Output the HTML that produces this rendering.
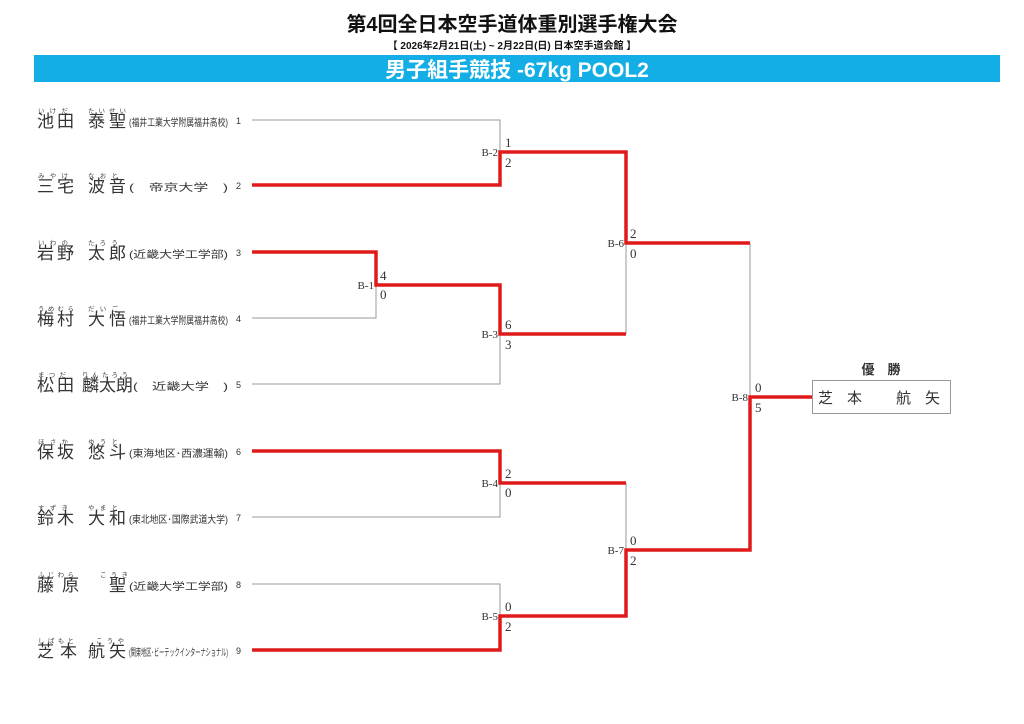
<!DOCTYPE html>
<html><head><meta charset="utf-8"><style>
html,body{margin:0;padding:0;background:#fff;}
svg{display:block;}
.j{font-family:"Liberation Sans","Noto Sans CJK JP",sans-serif;}
.nm{font-size:17px;fill:#333;}
.fu{font-size:6.5px;fill:#444;}
.org{font-size:10px;fill:#333;}
.num{font-size:9px;fill:#333;font-family:"Liberation Sans",sans-serif;}
.sc{font-family:"Liberation Serif","DejaVu Serif",serif;font-size:13px;fill:#333;}
.bl{font-family:"Liberation Serif","DejaVu Serif",serif;font-size:11px;fill:#333;}
.g{stroke:#999;stroke-width:1;fill:none;}
.r{stroke:#e01a1a;stroke-width:3.5;fill:none;stroke-linejoin:miter;}
</style></head><body>
<svg width="1024" height="724" viewBox="0 0 1024 724" xmlns="http://www.w3.org/2000/svg">
<text class="j" x="512" y="31" text-anchor="middle" font-size="20" font-weight="bold" fill="#111">第4回全日本空手道体重別選手権大会</text>
<text class="j" x="512" y="49" text-anchor="middle" font-size="10" font-weight="bold" fill="#111">【 2026年2月21日(土) ~ 2月22日(日)  日本空手道会館 】</text>
<rect x="34" y="55" width="966" height="27" fill="#13aee5"/>
<text class="j" x="517" y="77" text-anchor="middle" font-size="21" font-weight="bold" fill="#fff">男子組手競技 -67kg POOL2</text>

<g class="g">
<path d="M252 120 H500 V152"/>
<path d="M252 318 H376 V285"/>
<path d="M252 384 H500 V334"/>
<path d="M252 517 H500 V483"/>
<path d="M252 584 H500 V616"/>
<path d="M626 243 V334"/>
<path d="M750 243 V397"/>
<path d="M626 483 V550"/>
</g>
<g class="r">
<path d="M252 185 H500 V152 H626 V243 H750"/>
<path d="M252 252 H376 V285 H500 V334 H626"/>
<path d="M252 451 H500 V483 H626"/>
<path d="M252 650 H500 V616 H626 V550 H750 V397 H812"/>
</g>

<g class="sc">
<text x="505" y="147">1</text><text x="505" y="167">2</text>
<text x="380" y="280">4</text><text x="380" y="299">0</text>
<text x="505" y="329">6</text><text x="505" y="349">3</text>
<text x="630" y="238">2</text><text x="630" y="258">0</text>
<text x="505" y="478">2</text><text x="505" y="497">0</text>
<text x="505" y="611">0</text><text x="505" y="631">2</text>
<text x="630" y="545">0</text><text x="630" y="565">2</text>
<text x="755" y="392">0</text><text x="755" y="412">5</text>
</g>
<g class="bl" text-anchor="end">
<text x="498" y="156">B-2</text>
<text x="374" y="289">B-1</text>
<text x="498" y="338">B-3</text>
<text x="624" y="247">B-6</text>
<text x="498" y="487">B-4</text>
<text x="498" y="620">B-5</text>
<text x="624" y="554">B-7</text>
<text x="748" y="401">B-8</text>
</g>

<text class="j" x="881" y="374" text-anchor="middle" font-size="13" font-weight="bold" fill="#333">優　勝</text>
<rect x="812.5" y="380.5" width="138" height="33" fill="#fff" stroke="#999"/>
<g class="j" font-size="15" fill="#333">
<text x="818" y="403">芝</text><text x="847" y="403">本</text><text x="896" y="403">航</text><text x="925" y="403">矢</text>
</g>

<g class="j">
<g transform="translate(0,127)">
<text class="fu" x="38" y="-14" textLength="30" lengthAdjust="spacing">いけだ</text><text class="fu" x="88" y="-14" textLength="38" lengthAdjust="spacing">たいせい</text>
<text class="nm" x="37" y="0">池</text><text class="nm" x="57" y="0">田</text><text class="nm" x="88" y="0">泰</text><text class="nm" x="109" y="0">聖</text>
<text class="org" x="129" y="-1" textLength="99" lengthAdjust="spacingAndGlyphs">(福井工業大学附属福井高校)</text>
<text class="num" x="236" y="-3">1</text></g>
<g transform="translate(0,192)">
<text class="fu" x="38" y="-14" textLength="30" lengthAdjust="spacing">みやけ</text><text class="fu" x="88" y="-14" textLength="30" lengthAdjust="spacing">なおと</text>
<text class="nm" x="37" y="0">三</text><text class="nm" x="57" y="0">宅</text><text class="nm" x="88" y="0">波</text><text class="nm" x="109" y="0">音</text>
<text class="org" x="129" y="-1" textLength="99" lengthAdjust="spacingAndGlyphs">(　帝京大学　)</text>
<text class="num" x="236" y="-3">2</text></g>
<g transform="translate(0,259)">
<text class="fu" x="38" y="-14" textLength="30" lengthAdjust="spacing">いわの</text><text class="fu" x="88" y="-14" textLength="30" lengthAdjust="spacing">たろう</text>
<text class="nm" x="37" y="0">岩</text><text class="nm" x="57" y="0">野</text><text class="nm" x="88" y="0">太</text><text class="nm" x="109" y="0">郎</text>
<text class="org" x="129" y="-1" textLength="99" lengthAdjust="spacingAndGlyphs">(近畿大学工学部)</text>
<text class="num" x="236" y="-3">3</text></g>
<g transform="translate(0,325)">
<text class="fu" x="38" y="-14" textLength="36" lengthAdjust="spacing">うめむら</text><text class="fu" x="88" y="-14" textLength="30" lengthAdjust="spacing">だいご</text>
<text class="nm" x="37" y="0">梅</text><text class="nm" x="57" y="0">村</text><text class="nm" x="88" y="0">大</text><text class="nm" x="109" y="0">悟</text>
<text class="org" x="129" y="-1" textLength="99" lengthAdjust="spacingAndGlyphs">(福井工業大学附属福井高校)</text>
<text class="num" x="236" y="-3">4</text></g>
<g transform="translate(0,391)">
<text class="fu" x="38" y="-14" textLength="28" lengthAdjust="spacing">まつだ</text><text class="fu" x="82" y="-14" textLength="46" lengthAdjust="spacing">りんたろう</text>
<text class="nm" x="37" y="0">松</text><text class="nm" x="57" y="0">田</text><text class="nm" x="82" y="0">麟</text><text class="nm" x="99" y="0">太</text><text class="nm" x="116" y="0">朗</text>
<text class="org" x="133" y="-1" textLength="95" lengthAdjust="spacingAndGlyphs">(　近畿大学　)</text>
<text class="num" x="236" y="-3">5</text></g>
<g transform="translate(0,458)">
<text class="fu" x="38" y="-14" textLength="30" lengthAdjust="spacing">ほさか</text><text class="fu" x="88" y="-14" textLength="30" lengthAdjust="spacing">ゆうと</text>
<text class="nm" x="37" y="0">保</text><text class="nm" x="57" y="0">坂</text><text class="nm" x="88" y="0">悠</text><text class="nm" x="109" y="0">斗</text>
<text class="org" x="129" y="-1" textLength="99" lengthAdjust="spacingAndGlyphs">(東海地区･西濃運輸)</text>
<text class="num" x="236" y="-3">6</text></g>
<g transform="translate(0,524)">
<text class="fu" x="38" y="-14" textLength="30" lengthAdjust="spacing">すずき</text><text class="fu" x="88" y="-14" textLength="30" lengthAdjust="spacing">やまと</text>
<text class="nm" x="37" y="0">鈴</text><text class="nm" x="57" y="0">木</text><text class="nm" x="88" y="0">大</text><text class="nm" x="109" y="0">和</text>
<text class="org" x="129" y="-1" textLength="99" lengthAdjust="spacingAndGlyphs">(東北地区･国際武道大学)</text>
<text class="num" x="236" y="-3">7</text></g>
<g transform="translate(0,591)">
<text class="fu" x="38" y="-14" textLength="36" lengthAdjust="spacing">ふじわら</text><text class="fu" x="100" y="-14" textLength="28" lengthAdjust="spacing">こうき</text>
<text class="nm" x="37" y="0">藤</text><text class="nm" x="62" y="0">原</text><text class="nm" x="109" y="0">聖</text>
<text class="org" x="129" y="-1" textLength="99" lengthAdjust="spacingAndGlyphs">(近畿大学工学部)</text>
<text class="num" x="236" y="-3">8</text></g>
<g transform="translate(0,657)">
<text class="fu" x="38" y="-14" textLength="36" lengthAdjust="spacing">しばもと</text><text class="fu" x="96" y="-14" textLength="28" lengthAdjust="spacing">こうや</text>
<text class="nm" x="37" y="0">芝</text><text class="nm" x="60" y="0">本</text><text class="nm" x="88" y="0">航</text><text class="nm" x="109" y="0">矢</text>
<text class="org" x="129" y="-1" textLength="99" lengthAdjust="spacingAndGlyphs">(関東地区･ビーテックインターナショナル)</text>
<text class="num" x="236" y="-3">9</text></g>
</g>
</svg>
</body></html>
